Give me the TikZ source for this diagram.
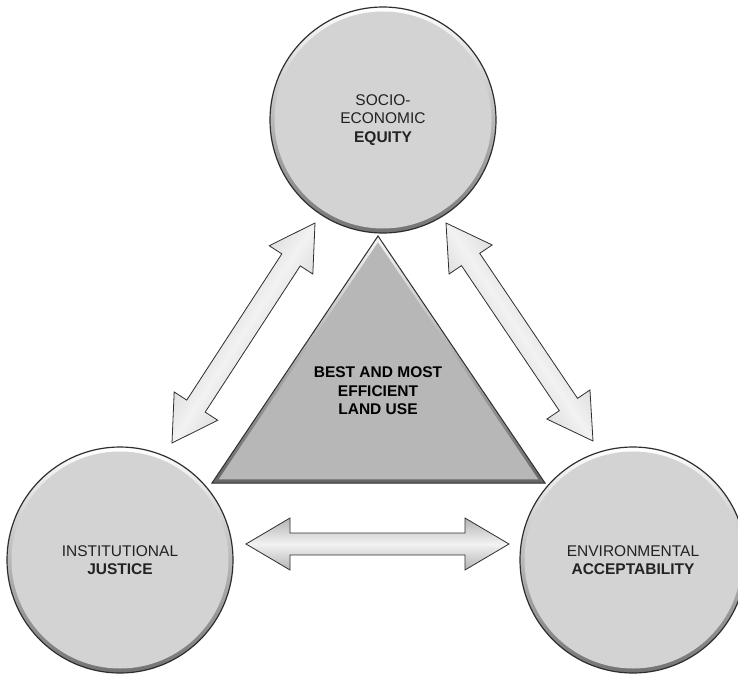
\documentclass[tikz,border=0pt]{standalone}
\usepackage{fontspec}
\setmainfont{Liberation Sans}
\usetikzlibrary{calc}

\definecolor{discfill}{HTML}{D3D3D3}
\definecolor{trifill}{HTML}{B7B7B7}
\definecolor{edge}{HTML}{2E2E2E}
\definecolor{labeltext}{HTML}{222222}
\definecolor{arrowrim}{HTML}{B4B4B4}
\definecolor{arrowmid}{HTML}{F2F2F2}

\tikzset{
  disc/.style={circle, minimum size=226pt, inner sep=0pt, draw=edge, line width=1.2pt,
    align=center, text=labeltext, font=\fontsize{15.5}{18.5}\selectfont,
    path picture={
      \shade[shading angle=45, top color=white, bottom color=black!55]
        (path picture bounding box.south west) rectangle (path picture bounding box.north east);
      \fill[discfill] (path picture bounding box.center) circle (108.5pt);
    }},
  corelabel/.style={align=center, text=black, font=\bfseries\fontsize{15.5}{18.5}\selectfont},
  arrowbody/.style={draw=edge, line width=0.8pt, line join=miter,
    top color=arrowrim, bottom color=arrowrim, middle color=arrowmid},
}

% double-headed block arrow between two named coordinates
\newcommand\blockarrow[3]{%
  \coordinate (#1h) at ($(#1)!44pt!(#2)$);
  \coordinate (#2h) at ($(#2)!44pt!(#1)$);
  \shade[arrowbody, shading angle=#3]
    (#1) -- ($(#1h)!26pt!90:(#2)$) -- ($(#1h)!11pt!90:(#2)$)
    -- ($(#2h)!11pt!-90:(#1)$) -- ($(#2h)!26pt!-90:(#1)$)
    -- (#2) -- ($(#2h)!26pt!90:(#1)$) -- ($(#2h)!11pt!90:(#1)$)
    -- ($(#1h)!11pt!-90:(#2)$) -- ($(#1h)!26pt!-90:(#2)$) -- cycle;
}

\begin{document}
\begin{tikzpicture}[x=1pt, y=-1pt]
  \useasboundingbox (0,0) rectangle (738,674);
  \clip (0,0) rectangle (738,674);

  % central triangle
  \coordinate (tA) at (378,236);
  \coordinate (tB) at (212,483);
  \coordinate (tC) at (545,483);
  \coordinate (tI) at (378.2,394.4);
  \shade[shading angle=30, top color=white!85!trifill, bottom color=black!60]
    (tA) -- (tB) -- (tC) -- cycle;
  \fill[trifill] ($(tI)!0.96!(tA)$) -- ($(tI)!0.96!(tB)$) -- ($(tI)!0.96!(tC)$) -- cycle;
  \draw[edge, line width=1pt, line join=miter] (tA) -- (tB) -- (tC) -- cycle;
  \node[corelabel] (core) at (378,391) {BEST AND MOST\\EFFICIENT\\LAND USE};

  % the three pillars
  \node[disc] (equity) at (383,120) {SOCIO-\\ECONOMIC\\\textbf{EQUITY}};
  \node[disc] (justice) at (120,560) {INSTITUTIONAL\\\textbf{JUSTICE}};
  \node[disc] (accept) at (633,560) {ENVIRONMENTAL\\\textbf{ACCEPTABILITY}};

  % connecting arrows
  \coordinate (la) at (172,443);
  \coordinate (lb) at (315,223);
  \coordinate (ra) at (446,223);
  \coordinate (rb) at (593,441);
  \coordinate (ha) at (246,544);
  \coordinate (hb) at (509,544);
  \blockarrow{la}{lb}{57}
  \blockarrow{ra}{rb}{-56}
  \blockarrow{ha}{hb}{0}
\end{tikzpicture}
\end{document}
